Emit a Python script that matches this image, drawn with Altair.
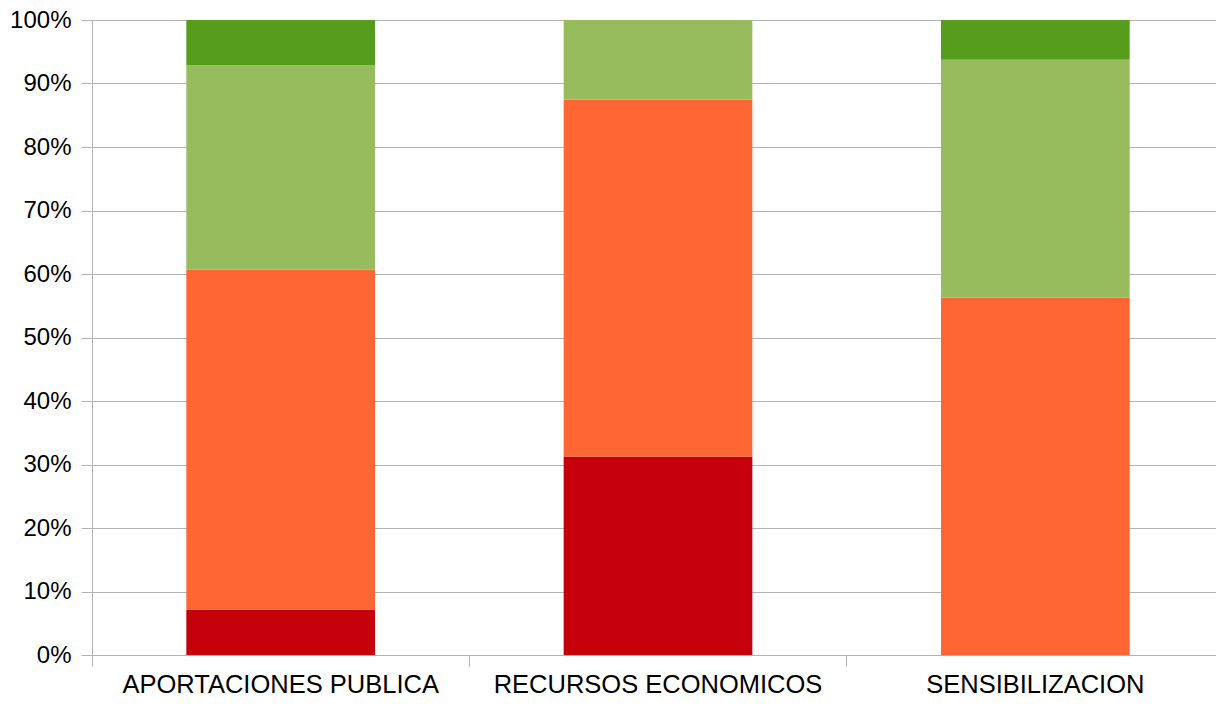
import altair as alt
import pandas as pd

categories = ["APORTACIONES PUBLICA", "RECURSOS ECONOMICOS", "SENSIBILIZACION"]
series = ["Serie 1", "Serie 2", "Serie 3", "Serie 4"]
colors = ["#C5000B", "#FF6633", "#97BC5E", "#579D1C"]
# counts per category, per series (bottom to top)
aportaciones = [2, 15, 9, 2]
recursos = [5, 9, 2, 0]
sensibilizacion = [0, 9, 6, 1]

rows = []
for cat, vals in zip(categories, [aportaciones, recursos, sensibilizacion]):
    for i, (s, v) in enumerate(zip(series, vals)):
        rows.append({"categoria": cat, "serie": s, "orden": i, "valor": v})
df = pd.DataFrame(rows)

grid_color = "#b3b3b3"

chart = alt.Chart(df).mark_bar(width=alt.RelativeBandSize(0.5)).encode(
    x=alt.X("categoria:N", sort=categories, title=None,
            scale=alt.Scale(paddingInner=0, paddingOuter=0, range=[0, 1132]),
            axis=alt.Axis(labelAngle=0, bandPosition=0, tickSize=11,
                          tickColor=grid_color, domainColor=grid_color,
                          labelFont="Liberation Sans", labelFontSize=25.5,
                          labelColor="#000000", labelPadding=26,
                          labelBaseline="alphabetic", labelLimit=0, grid=False)),
    y=alt.Y("valor:Q", stack="normalize", title=None,
            scale=alt.Scale(domain=[0, 1], nice=False),
            axis=alt.Axis(format=".0%", values=[i / 10 for i in range(11)],
                          tickSize=11, tickColor=grid_color, domainColor=grid_color,
                          gridColor=grid_color, labelFont="Liberation Sans",
                          labelFontSize=24, labelColor="#000000", labelPadding=10)),
    color=alt.Color("serie:N", scale=alt.Scale(domain=series, range=colors), legend=None),
    order=alt.Order("orden:Q", sort="ascending"),
).properties(
    width=1124, height=635,
    padding={"left": 84, "top": 12, "right": 0, "bottom": 43},
    autosize=alt.AutoSizeParams(type="none"),
).configure_view(stroke=None).configure_axis(labelOverlap=False)

chart.save("out.html", embed_options={"renderer": "svg", "actions": False})
